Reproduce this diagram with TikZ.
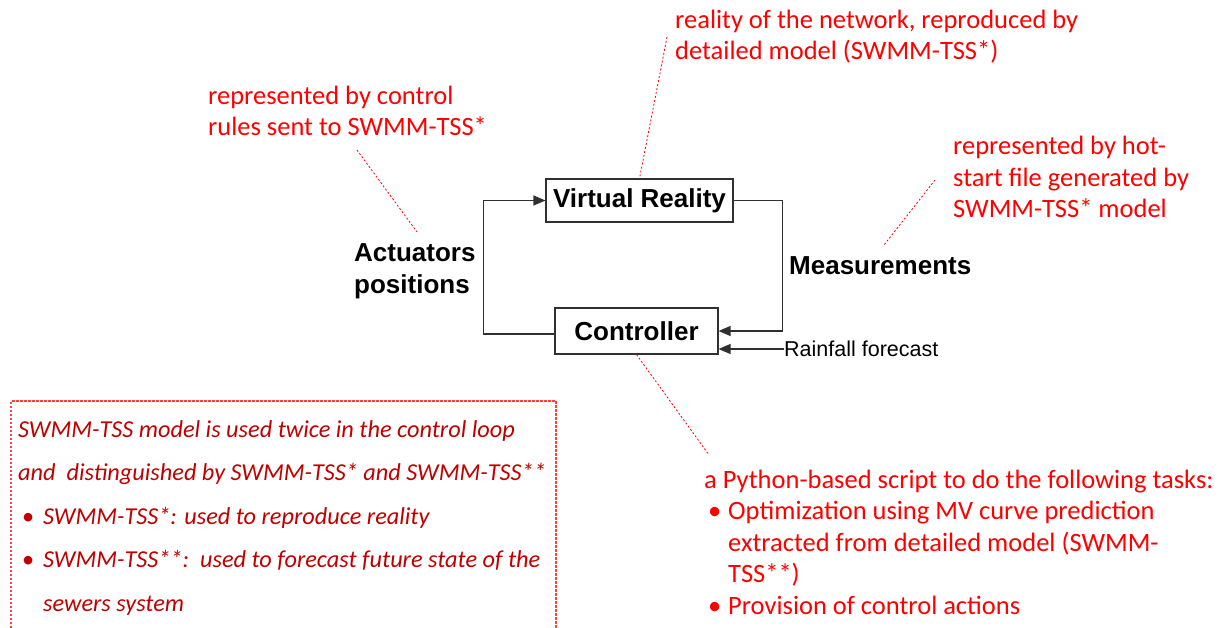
\documentclass[tikz,border=0pt]{standalone}
\usepackage{fontspec}
\setmainfont{Carlito}
\newfontfamily\arial{Liberation Sans}
\usetikzlibrary{arrows.meta}
\definecolor{boxred}{HTML}{C00000}
\definecolor{boxline}{HTML}{FF4040}
\definecolor{linegray}{HTML}{303030}
\tikzset{
  blockbox/.style={draw=linegray, line width=1.1pt, inner sep=0pt, font=\arial\bfseries\fontsize{26}{30}\selectfont},
  conn/.style={draw=linegray, line width=1.2pt, -{Triangle[length=12pt,width=10pt]}},
  blabel/.style={inner sep=0pt, anchor=base west, align=left, font=\arial\bfseries\fontsize{26}{32}\selectfont},
  note/.style={inner sep=0pt, anchor=base west, align=left, text=red, font=\fontsize{26.5}{31.5}\selectfont},
  lead/.style={draw=red, line width=0.8pt, dash pattern=on 2pt off 2pt},
}
\begin{document}
\begin{tikzpicture}[x=1pt,y=-1pt]
\useasboundingbox (0,0) rectangle (1222,628);
% blocks
\node[blockbox, minimum width=187pt, minimum height=43pt] (vr) at (639.5,200.5) {Virtual Reality};
\node[blockbox, minimum width=163pt, minimum height=46pt] (ctrl) at (636.5,331) {Controller};
% loop labels (anchor = baseline of last line)
\node[blabel] (act) at (354,293) {Actuators\\positions};
\node[blabel] (meas) at (789,274) {Measurements};
\node[inner sep=0pt, anchor=west, font=\arial\fontsize{21.5}{26}\selectfont] (rain) at (784,349) {Rainfall forecast};
% loop connectors
\draw[conn] ([yshift=-3pt]ctrl.west) -- ++(-71,0) |- (vr.west);
\draw[conn] (vr.east) -- ++(49,0) |- (ctrl.east);
\draw[conn] (rain.west) -- (rain.west -| ctrl.east);
% annotations
\node[note] (na) at (208,136) {represented by control\\rules sent to SWMM-TSS*};
\node[note] (nb) at (675,60) {reality of the network, reproduced by\\detailed model (SWMM-TSS*)};
\node[note] (nc) at (953,218) {represented by hot-\\start file generated by\\SWMM-TSS* model};
\node[note] (nd) at (704,614) {a Python-based script to do the following tasks:\\
\hspace*{4pt}\makebox[20pt][l]{•}Optimization using MV curve prediction\\
\hspace*{24pt}extracted from detailed model (SWMM-\\
\hspace*{24pt}TSS**)\\
\hspace*{4pt}\makebox[20pt][l]{•}Provision of control actions};
% leader lines
\coordinate (ea) at (357,150);
\coordinate (ta) at (417,232);
\coordinate (eb) at (667,37);
\coordinate (ec) at (935,180);
\coordinate (tc) at (884,245);
\coordinate (ed) at (709,455);
\draw[lead] (ea) -- (ta);
\draw[lead] (eb) -- (vr.north);
\draw[lead] (ec) -- (tc);
\draw[lead] (ctrl.south) -- (ed);
% dashed box (bottom runs off the picture)
\draw[draw=boxline, line width=1.1pt, dash pattern=on 2.5pt off 1.5pt] (11,628) -- (11,401) -- (556,401) -- (556,628);
\node[inner sep=0pt, anchor=base west, align=left, text=boxred, font=\itshape\fontsize{24.3}{43.5}\selectfont] (box) at (18,611) {SWMM-TSS model is used twice in the control loop\\
and\ \ distinguished by SWMM-TSS* and SWMM-TSS**\\
\hspace*{4pt}\makebox[21pt][l]{\upshape•}SWMM-TSS*: used to reproduce reality\\
\hspace*{4pt}\makebox[21pt][l]{\upshape•}SWMM-TSS**:\ \ used to forecast future state of the\\
\hspace*{25pt}sewers system};
\end{tikzpicture}
\end{document}
